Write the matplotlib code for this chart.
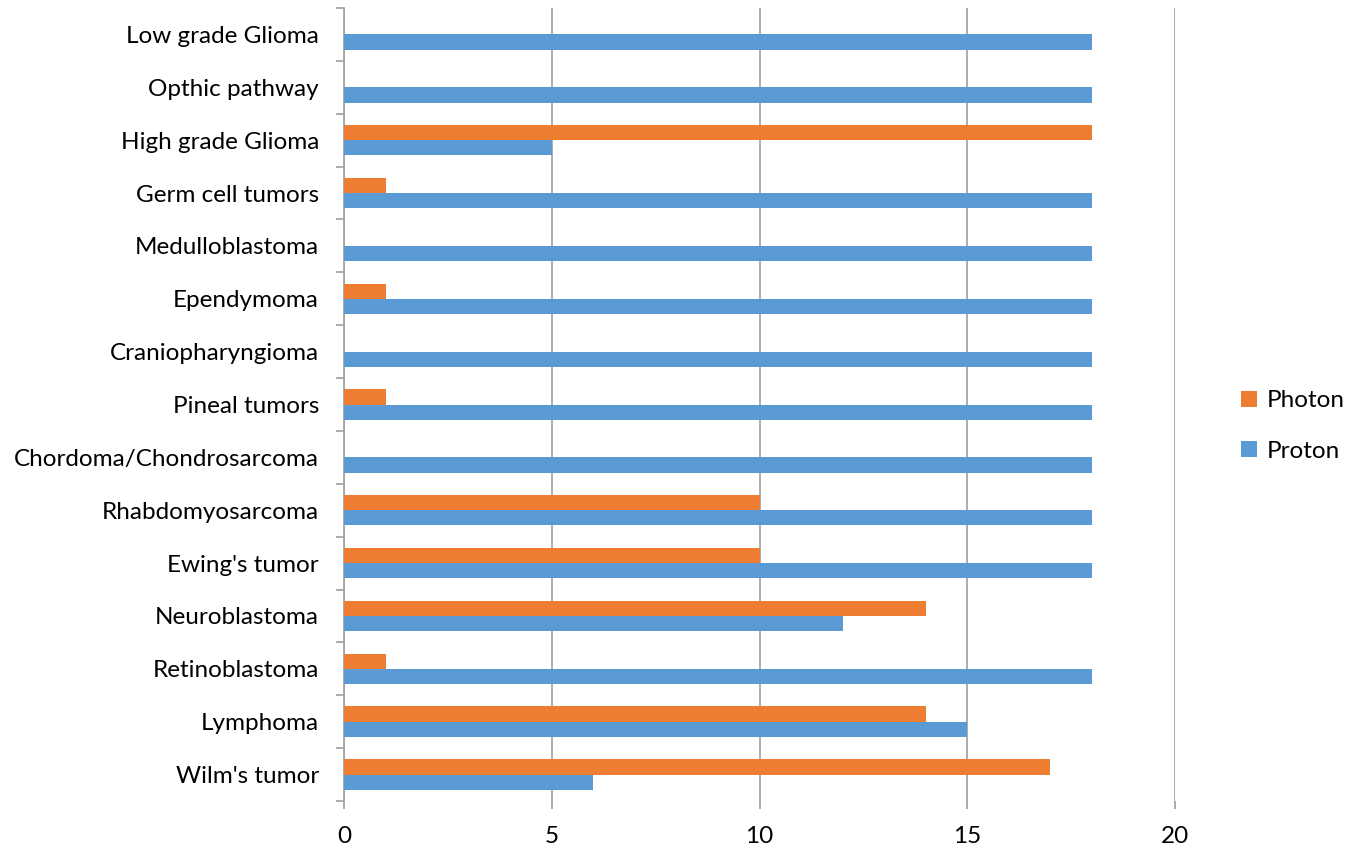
import matplotlib
matplotlib.use("Agg")
import matplotlib.pyplot as plt
import numpy as np

plt.rcParams['font.family'] = ['Lato', 'DejaVu Sans']

categories = ["Wilm's tumor", "Lymphoma", "Retinoblastoma", "Neuroblastoma", "Ewing's tumor",
              "Rhabdomyosarcoma", "Chordoma/Chondrosarcoma", "Pineal tumors", "Craniopharyngioma",
              "Ependymoma", "Medulloblastoma", "Germ cell tumors", "High grade Glioma",
              "Opthic pathway", "Low grade Glioma"]
proton = [6, 15, 18, 12, 18, 18, 18, 18, 18, 18, 18, 18, 5, 18, 18]
photon = [17, 14, 1, 14, 10, 10, 0, 1, 0, 1, 0, 1, 18, 0, 0]
xticks = [0, 5, 10, 15, 20]

fs = 17.5
fig = plt.figure(figsize=(13.48, 8.5), dpi=100)
ax = fig.add_axes([344/1348, 1-801/850, (1175-344)/1348, (801-8)/850])

y = np.arange(len(categories))
h = 0.288
ax.barh(y - h/2, proton, height=h, color='#5B9BD5', label='Proton', zorder=3)
ax.barh(y + h/2, photon, height=h, color='#ED7D31', label='Photon', zorder=3)

ax.set_xlim(0, 20)
ax.set_ylim(-0.5, len(categories) - 0.5)
ax.set_xticks(xticks)
ax.set_xticklabels([str(t) for t in xticks], fontsize=fs)
ax.set_yticks(y)
ax.set_yticklabels(categories, fontsize=fs)
ax.tick_params(axis='y', length=0, pad=18)
ax.set_yticks(np.arange(-0.5, len(categories), 1), minor=True)
ax.tick_params(axis='y', which='minor', length=6, color='#A6A6A6', width=1.3)
ax.tick_params(axis='x', length=6, color='#A6A6A6', width=1.3, pad=12)

ax.grid(axis='x', color='#A6A6A6', linewidth=1.3, zorder=0)
for s in ['top', 'right', 'bottom']:
    ax.spines[s].set_visible(False)
ax.spines['left'].set_color('#A6A6A6')
ax.spines['left'].set_linewidth(1.3)

handles, labels = ax.get_legend_handles_labels()
leg = fig.legend(handles[::-1], labels[::-1], loc='center left', bbox_to_anchor=(1234/1348, 1-426/850),
                 frameon=False, fontsize=fs, handlelength=0.65, handleheight=0.65,
                 labelspacing=1.2, handletextpad=0.4, borderaxespad=0, borderpad=0.3)

fig.savefig('out.png', dpi=100)
